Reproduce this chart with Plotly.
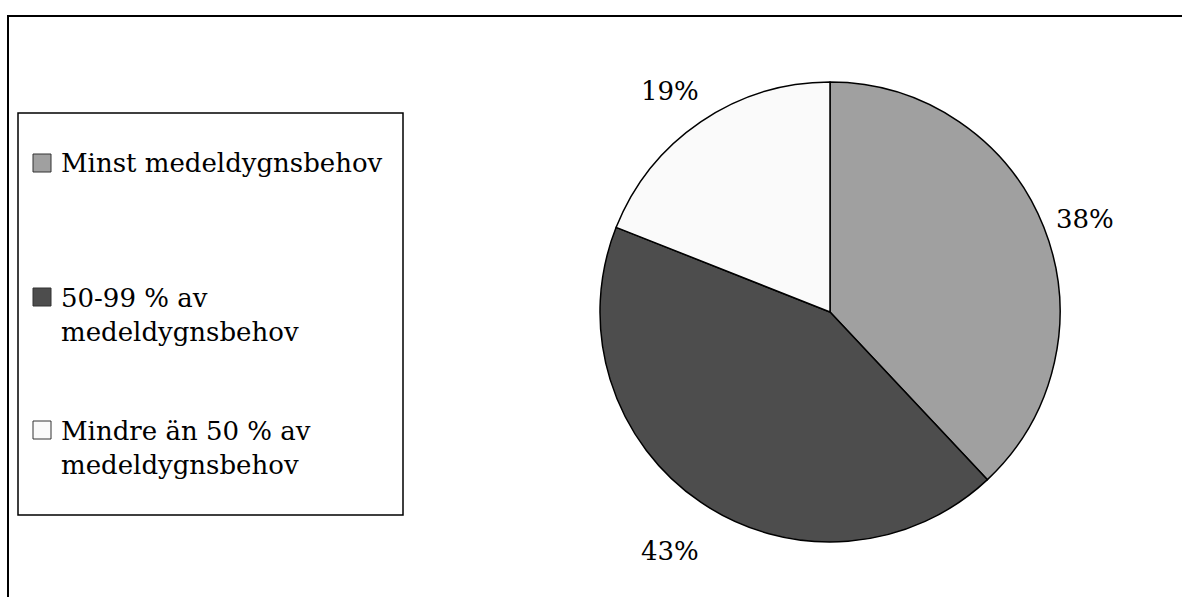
import math
import plotly.graph_objects as go

categories = ["Minst medeldygnsbehov", "50-99 % av<br>medeldygnsbehov", "Mindre än 50 % av<br>medeldygnsbehov"]
values = [38, 43, 19]
colors = ["#a0a0a0", "#4d4d4d", "#fafafa"]

W, H = 1182, 597
FONT = "DejaVu Serif"
FS = 26

# pie geometry (pixels)
cx, cy, R = 830, 312, 230

fig = go.Figure()
fig.add_trace(go.Pie(
    labels=[c.replace("<br>", " ") for c in categories],
    values=values,
    sort=False,
    direction="clockwise",
    rotation=0,
    marker=dict(colors=colors, line=dict(color="#000000", width=1.5)),
    textinfo="none",
    hoverinfo="label+percent",
    showlegend=False,
    domain=dict(x=[(cx - R) / W, (cx + R) / W], y=[1 - (cy + R) / H, 1 - (cy - R) / H]),
))

shapes = []
annotations = []

# outer border
shapes.append(dict(type="rect", xref="paper", yref="paper",
                   x0=8 / W, x1=1.02, y0=-0.02, y1=1 - 16 / H,
                   line=dict(color="#000000", width=2), fillcolor="rgba(0,0,0,0)"))
# legend box
shapes.append(dict(type="rect", xref="paper", yref="paper",
                   x0=18 / W, x1=403 / W, y0=1 - 515 / H, y1=1 - 113 / H,
                   line=dict(color="#000000", width=1.5), fillcolor="#ffffff"))

# legend items: symbol centre y and text block centre y (pixels)
sym_y = [163, 297, 430]
txt_y = [163, 315, 448]
for cat, col, sy, ty in zip(categories, colors, sym_y, txt_y):
    shapes.append(dict(type="rect", xref="paper", yref="paper",
                       x0=33 / W, x1=51 / W, y0=1 - (sy + 9) / H, y1=1 - (sy - 9) / H,
                       line=dict(color="#333333", width=1), fillcolor=col))
    annotations.append(dict(text=cat, xref="paper", yref="paper",
                            x=59 / W, y=1 - ty / H, xanchor="left", yanchor="middle",
                            align="left", showarrow=False,
                            font=dict(family=FONT, size=FS, color="#000000")))

# percentage labels outside slices
total = sum(values)
cum = 0
for v in values:
    mid = (cum + v / 2) / total * 2 * math.pi
    cum += v
    r = R * 1.21
    px = cx + r * math.sin(mid) - 4
    py = cy - r * math.cos(mid) + 9
    annotations.append(dict(text=f"{round(v / total * 100)}%", xref="paper", yref="paper",
                            x=px / W, y=1 - py / H, xanchor="center", yanchor="middle",
                            showarrow=False, font=dict(family=FONT, size=FS, color="#000000")))

fig.update_layout(
    width=W, height=H,
    margin=dict(l=0, r=0, t=0, b=0),
    paper_bgcolor="#ffffff",
    plot_bgcolor="#ffffff",
    shapes=shapes,
    annotations=annotations,
    font=dict(family=FONT, size=FS, color="#000000"),
)

fig.write_html("out.html")
